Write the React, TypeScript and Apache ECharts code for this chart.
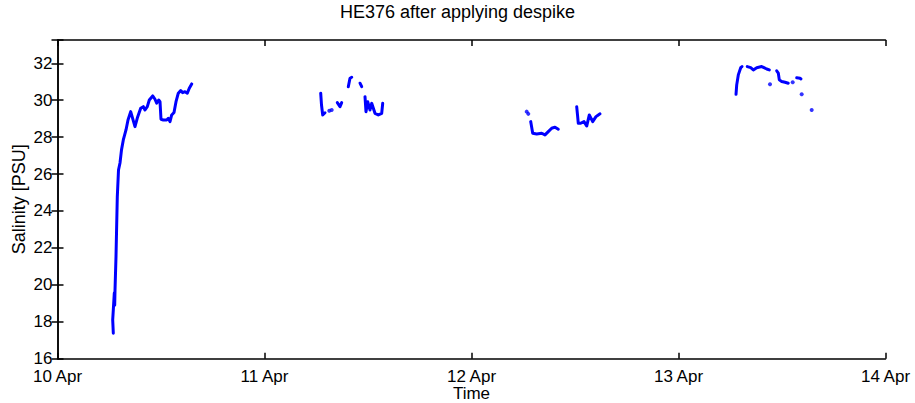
import React, { useEffect, useRef } from "react";
import * as echarts from "echarts";

// Time in days since 10 Apr 00:00, salinity in PSU
const seg1Time = [0.2696, 0.2667, 0.2696, 0.2744, 0.2763, 0.2778, 0.2826, 0.2889, 0.2947, 0.3019, 0.3092, 0.3179, 0.3309, 0.3406, 0.3536, 0.3744, 0.3855, 0.4019, 0.4145, 0.4227, 0.4338, 0.4435, 0.4599, 0.4710, 0.4792, 0.4889, 0.4952, 0.5000, 0.5111, 0.5275, 0.5353, 0.5435, 0.5517, 0.5628, 0.5725, 0.5836, 0.5952, 0.6048, 0.6159, 0.6271, 0.6367, 0.6483];
const seg1Sal = [17.38, 18.10, 18.64, 19.56, 18.90, 19.70, 21.53, 24.78, 26.22, 26.60, 27.31, 27.85, 28.39, 28.93, 29.38, 28.57, 29.03, 29.56, 29.65, 29.47, 29.65, 30.01, 30.23, 30.05, 29.84, 30.01, 29.92, 28.97, 28.93, 28.93, 29.02, 28.84, 29.20, 29.33, 29.92, 30.38, 30.52, 30.41, 30.46, 30.38, 30.65, 30.88];

const seg2aTime = [1.2715, 1.2754, 1.2812, 1.2923];
const seg2aSal = [30.38, 29.74, 29.20, 29.32];
const seg2bTime = [1.3517, 1.3647, 1.3729];
const seg2bSal = [29.87, 29.65, 29.87];
const seg2cTime = [1.4048, 1.4130, 1.4213];
const seg2cSal = [30.73, 31.19, 31.24];
const seg2dTime = [1.4614, 1.4696];
const seg2dSal = [30.92, 30.73];
const seg2eTime = [1.4855, 1.4903, 1.4986, 1.5097, 1.5179, 1.5338, 1.5498, 1.5662, 1.5710];
const seg2eSal = [30.19, 29.38, 29.92, 29.47, 29.83, 29.29, 29.20, 29.29, 29.83];

const seg3aTime = [2.2860, 2.2957, 2.3150, 2.3391, 2.3551, 2.3710, 2.3874, 2.4034, 2.4193];
const seg3aSal = [28.84, 28.21, 28.17, 28.21, 28.12, 28.30, 28.48, 28.54, 28.43];
const seg3bTime = [2.5082, 2.5121, 2.5159, 2.5275, 2.5435, 2.5565, 2.5691, 2.5855, 2.6014, 2.6126, 2.6208];
const seg3bSal = [29.65, 29.20, 28.75, 28.75, 28.84, 28.60, 29.20, 28.84, 29.11, 29.20, 29.26];

const seg4aTime = [3.2778, 3.2812, 3.2889, 3.3005, 3.3068];
const seg4aSal = [30.32, 30.83, 31.37, 31.76, 31.82];
const seg4bTime = [3.3324, 3.3488, 3.3614, 3.3778, 3.4019, 3.4130, 3.4261, 3.4386];
const seg4bSal = [31.82, 31.76, 31.64, 31.76, 31.82, 31.76, 31.69, 31.64];
const seg4cTime = [3.4744, 3.4821, 3.4870, 3.4986, 3.5145, 3.5304];
const seg4cSal = [31.59, 31.47, 31.10, 31.01, 30.97, 30.92];
const seg4dTime = [3.5710, 3.5870, 3.5918];
const seg4dSal = [31.22, 31.19, 31.15];

const dotTime = [1.3130, 1.3246, 2.2667, 2.2744, 3.4420, 3.5517, 3.5952, 3.6435];
const dotSal = [29.43, 29.47, 29.38, 29.26, 30.86, 30.97, 30.32, 29.47];

const xTickLabels = ["10 Apr", "11 Apr", "12 Apr", "13 Apr", "14 Apr"];
const yTicks = [16, 18, 20, 22, 24, 26, 28, 30, 32];

const titleText = "HE376 after applying despike";
const xName = "Time";
const yName = "Salinity [PSU]";

const zip = (t: number[], s: number[]) => t.map((v, i) => [v, s[i]]);

const lineSegs = [
  [seg1Time, seg1Sal],
  [seg2aTime, seg2aSal],
  [seg2bTime, seg2bSal],
  [seg2cTime, seg2cSal],
  [seg2dTime, seg2dSal],
  [seg2eTime, seg2eSal],
  [seg3aTime, seg3aSal],
  [seg3bTime, seg3bSal],
  [seg4aTime, seg4aSal],
  [seg4bTime, seg4bSal],
  [seg4cTime, seg4cSal],
  [seg4dTime, seg4dSal],
];

const FONT = "'Liberation Sans', Arial, sans-serif";
const FS = 18;
const TICK_FS = 17;
const BLUE = "#0000ff";

export default function App() {
  const ref = useRef<HTMLDivElement>(null);
  useEffect(() => {
    if (!ref.current) return;
    const chart = echarts.init(ref.current, undefined, { renderer: "svg" });
    const axisLine = { show: true, lineStyle: { color: "#000", width: 1.5 } };
    const axisTick = { show: true, inside: true, length: 6, lineStyle: { color: "#000", width: 1.5 } };
    const yFmt = (v: number) => (yTicks.includes(Math.round(v * 1000) / 1000) ? String(v) : "");
    const series: any[] = lineSegs.map(([t, s]) => ({
      type: "line",
      data: zip(t, s),
      showSymbol: false,
      symbol: "none",
      lineStyle: { color: BLUE, width: 3, join: "round", cap: "round" },
      itemStyle: { color: BLUE },
      xAxisIndex: 0,
      yAxisIndex: 0,
    }));
    series.push({
      type: "scatter",
      data: zip(dotTime, dotSal),
      symbolSize: 4,
      itemStyle: { color: BLUE },
      xAxisIndex: 0,
      yAxisIndex: 0,
    });
    chart.setOption({
      animation: false,
      backgroundColor: "#fff",
      title: {
        text: titleText,
        left: "center",
        top: 3,
        padding: 0,
        textStyle: { fontFamily: FONT, fontSize: FS, fontWeight: "normal", color: "#000" },
      },
      grid: {
        left: 57.5,
        right: 29.5,
        top: 40,
        bottom: 44.3,
        containLabel: false,
        outerBoundsMode: "none",
      },
      xAxis: [
        {
          type: "value",
          min: 0,
          max: 4,
          interval: 1,
          position: "bottom",
          axisLine,
          axisTick,
          splitLine: { show: false },
          axisLabel: {
            color: "#000",
            fontFamily: FONT,
            fontSize: TICK_FS,
            margin: 9,
            formatter: (v: number) => xTickLabels[Math.round(v)] ?? "",
          },
          name: xName,
          nameLocation: "middle",
          nameGap: 26.5,
          nameMoveOverlap: false,
          nameTextStyle: { color: "#000", fontFamily: FONT, fontSize: TICK_FS },
        },
        {
          type: "value",
          min: 0,
          max: 4,
          interval: 1,
          position: "top",
          axisLine,
          axisTick,
          splitLine: { show: false },
          axisLabel: { show: false },
        },
      ],
      yAxis: [
        {
          type: "value",
          min: 16,
          max: 33.26,
          interval: 2,
          position: "left",
          axisLine,
          axisTick,
          splitLine: { show: false },
          axisLabel: {
            color: "#000",
            fontFamily: FONT,
            fontSize: TICK_FS,
            margin: 5,
            formatter: yFmt,
          },
          name: yName,
          nameLocation: "middle",
          nameGap: 29.5,
          nameMoveOverlap: false,
          nameTextStyle: { color: "#000", fontFamily: FONT, fontSize: FS },
        },
        {
          type: "value",
          min: 16,
          max: 33.26,
          interval: 2,
          position: "right",
          axisLine,
          axisTick,
          splitLine: { show: false },
          axisLabel: { show: false },
        },
      ],
      series,
    });
    return () => chart.dispose();
  }, []);
  return (
    <div
      ref={ref}
      style={{ position: "fixed", left: 0, top: 0, width: 915, height: 403, background: "#fff" }}
    />
  );
}
